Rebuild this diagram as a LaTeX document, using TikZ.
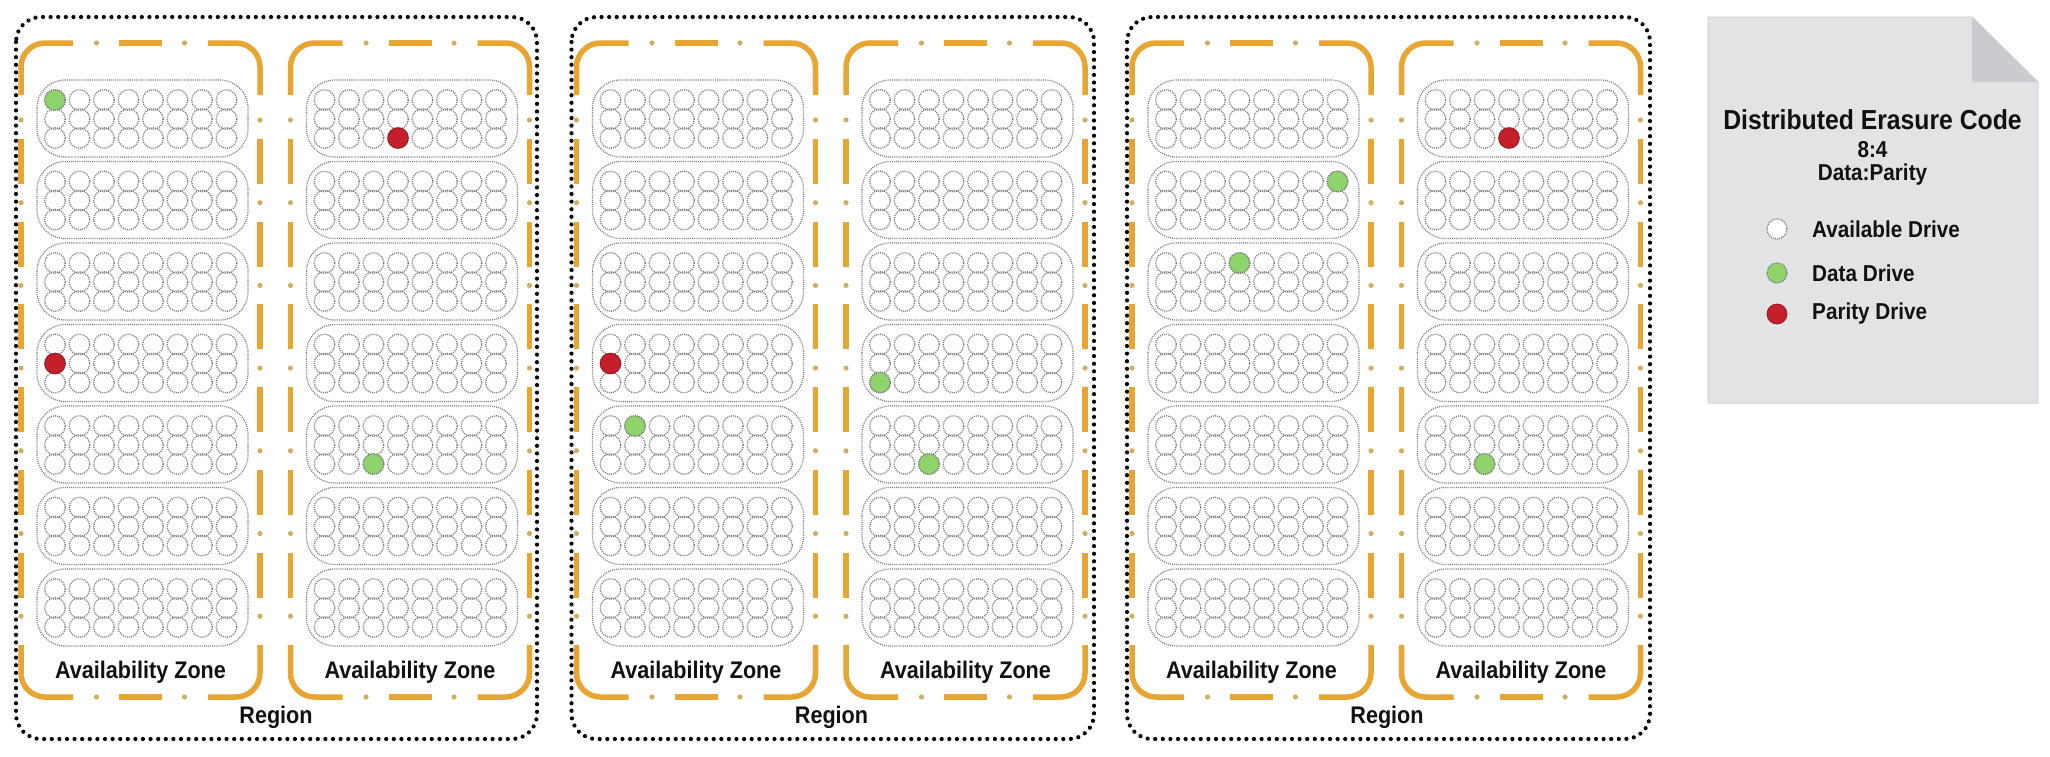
\documentclass[tikz,border=0pt]{standalone}
\usepackage{fontspec}
\setmainfont{Liberation Sans}
\newfontfamily\condfont[FakeStretch=0.9]{Liberation Sans}
\definecolor{zoneorange}{HTML}{E8A532}
\definecolor{zonedot}{HTML}{D2AE5E}
\definecolor{drivegray}{HTML}{767676}
\definecolor{datagreen}{HTML}{8ED46B}
\definecolor{paritored}{HTML}{C61F2C}
\definecolor{legendfill}{HTML}{E2E3E5}
\definecolor{foldfill}{HTML}{C9CBCE}
\definecolor{legendedge}{HTML}{D3D5D7}
\definecolor{textblack}{HTML}{111111}
\tikzset{
  regionbox/.style={draw=black, line width=4.2pt, dash pattern=on 0pt off 7.6pt, line cap=round, rounded corners=25pt},
  zoneline/.style={draw=zoneorange, line width=5.5pt, line cap=butt},
  rackbox/.style={draw=drivegray, line width=1.2pt, dash pattern=on 1pt off 1.1pt, rounded corners=28pt},
  drive/.style={draw=drivegray, line width=1.3pt, dash pattern=on 1pt off 1.1pt},
  zonelabel/.style={inner sep=0pt, text=textblack, font=\condfont\bfseries\fontsize{24}{28}\selectfont},
  legtext/.style={inner sep=0pt, text=textblack, font=\condfont\bfseries\fontsize{23}{27}\selectfont},
  legtitle/.style={inner sep=0pt, text=textblack, font=\condfont\bfseries\fontsize{27.5}{32}\selectfont}
}
\newcommand\zonebox[1]{%
\begin{scope}[shift={(#1,0)}]
  \foreach \k in {0,...,6}{%
    \pgfmathsetmacro\ty{80+81.5*\k}%
    \draw[rackbox] (16,\ty) rectangle ++(211,77);
    \foreach \r in {0,1,2}{\foreach \c in {0,...,7}{%
      \draw[drive] ({34+24.5*\c},{\ty+20+19*\r}) circle (10.3);}}
  }
  \draw[zoneline, rounded corners=24pt] (0,95) -- (0,43) -- (52,43);
  \draw[zoneline, rounded corners=24pt] (187,43) -- (239,43) -- (239,95);
  \draw[zoneline, rounded corners=24pt] (0,645) -- (0,697) -- (52,697);
  \draw[zoneline, rounded corners=24pt] (187,697) -- (239,697) -- (239,645);
  \draw[zoneline] (98,43) -- (141,43);
  \draw[zoneline] (98,697) -- (141,697);
  \foreach \x in {75.5,163.5}{%
    \fill[zonedot] (\x,43) circle (2.6);
    \fill[zonedot] (\x,697) circle (2.6);}
  \foreach \k in {0,...,6}{%
    \pgfmathsetmacro\dy{120+82.7*\k}%
    \fill[zonedot] (0,\dy) circle (2.6);
    \fill[zonedot] (239,\dy) circle (2.6);}
  \foreach \k in {0,...,5}{%
    \pgfmathsetmacro\dy{120+82.7*\k}%
    \draw[zoneline] (0,{\dy+19}) -- (0,{\dy+64});
    \draw[zoneline] (239,{\dy+19}) -- (239,{\dy+64});}
\end{scope}}
% colored drive: x0, rack, row, col
\newcommand\greendrv[4]{%
  \pgfmathsetmacro\gx{#1+34+24.5*#4}%
  \pgfmathsetmacro\gy{80+81.5*#2+20+19*#3}%
  \fill[datagreen] (\gx,\gy) circle (10.3);
  \draw[drive] (\gx,\gy) circle (10.3);}
\newcommand\reddrv[4]{%
  \pgfmathsetmacro\gx{#1+34+24.5*#4}%
  \pgfmathsetmacro\gy{80+81.5*#2+20+19*#3}%
  \fill[paritored, draw=paritored!75!black, line width=0.8pt] (\gx,\gy) circle (10.3);}
\begin{document}
\begin{tikzpicture}[x=1pt,y=-1pt]
\useasboundingbox (0,0) rectangle (2050,756);
\fill[white] (0,0) rectangle (2050,756);
% zones
\zonebox{21}
\zonebox{290.5}
\zonebox{576.5}
\zonebox{846}
\zonebox{1132}
\zonebox{1401.5}
% colored drives
\greendrv{21}{0}{0}{0}
\reddrv{21}{3}{1}{0}
\reddrv{290.5}{0}{2}{3}
\greendrv{290.5}{4}{2}{2}
\reddrv{576.5}{3}{1}{0}
\greendrv{576.5}{4}{0}{1}
\greendrv{846}{3}{2}{0}
\greendrv{846}{4}{2}{2}
\greendrv{1132}{2}{0}{3}
\greendrv{1132}{1}{0}{7}
\reddrv{1401.5}{0}{2}{3}
\greendrv{1401.5}{4}{2}{2}
% region boxes
\draw[regionbox] (16,17) rectangle (537,739);
\draw[regionbox] (571.5,17) rectangle (1094,739);
\draw[regionbox] (1127,17) rectangle (1650,739);
% labels
\node[zonelabel] (az1) at (140.5,672) {Availability Zone};
\node[zonelabel] (az2) at (410,672) {Availability Zone};
\node[zonelabel] (az3) at (696,672) {Availability Zone};
\node[zonelabel] (az4) at (965.5,672) {Availability Zone};
\node[zonelabel] (az5) at (1251.5,672) {Availability Zone};
\node[zonelabel] (az6) at (1521,672) {Availability Zone};
\node[zonelabel] (reg1) at (276,717) {Region};
\node[zonelabel] (reg2) at (831.5,717) {Region};
\node[zonelabel] (reg3) at (1387,717) {Region};
% legend
\fill[legendfill, draw=legendedge, line width=1pt] (1708,17) -- (1972,17) -- (2038,82) -- (2038,403) -- (1708,403) -- cycle;
\fill[foldfill] (1972,17) -- (1972,82) -- (2038,82) -- cycle;
\node[legtitle] (lgtitle) at (1872.5,120) {Distributed Erasure Code};
\node[legtext] (lgratio) at (1872.5,150) {8:4};
\node[legtext] (lgdp) at (1872.5,175) {Data:Parity};
\fill[white] (1777,229) circle (10);
\draw[drive] (1777,229) circle (10);
\fill[datagreen] (1777,273) circle (10);
\draw[drive] (1777,273) circle (10);
\fill[paritored, draw=paritored!75!black, line width=0.8pt] (1777,314) circle (10);
\node[legtext, anchor=west] (lgavail) at (1812,229) {Available Drive};
\node[legtext, anchor=west] (lgdata) at (1812,273) {Data Drive};
\node[legtext, anchor=west] (lgpar) at (1812,314) {Parity Drive};
\end{tikzpicture}
\end{document}
